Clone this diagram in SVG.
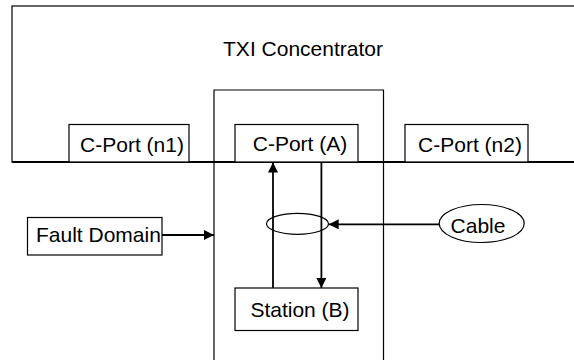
<svg xmlns="http://www.w3.org/2000/svg" width="574" height="360" viewBox="0 0 574 360">
<style>
.box{fill:#fff;stroke:#000;stroke-width:1.2}
.lbl{font-family:"Liberation Sans",Arial,sans-serif;font-size:21px;fill:#000}
.conn{stroke:#000;stroke-width:1.8;fill:none}
</style>
<defs>
<marker id="ah" viewBox="0 0 10 10" refX="10" refY="5" markerWidth="10" markerHeight="10" markerUnits="userSpaceOnUse" orient="auto">
<path d="M0,0 L10,5 L0,10 z" fill="#000"/>
</marker>
</defs>
<rect width="574" height="360" fill="#fff"/>
<g id="concentrator">
<rect class="box" x="12" y="6" width="570" height="156"/>
<line x1="12" y1="162" x2="574" y2="162" stroke="#000" stroke-width="2.2"/>
<text class="lbl" x="303" y="56" text-anchor="middle">TXI Concentrator</text>
</g>
<g id="fault-domain-region">
<path d="M214,360 V90 H383.5 V360" fill="none" stroke="#000" stroke-width="1.2"/>
</g>
<g id="cport-n1">
<rect class="box" x="69" y="124.5" width="120" height="37.5"/>
<text class="lbl" x="132" y="151.5" text-anchor="middle">C-Port (n1)</text>
</g>
<g id="cport-a">
<rect class="box" x="235" y="124.5" width="123" height="37.5"/>
<text class="lbl" x="300" y="150.5" text-anchor="middle">C-Port (A)</text>
</g>
<g id="cport-n2">
<rect class="box" x="405" y="124.5" width="123" height="37.5"/>
<text class="lbl" x="470" y="151.5" text-anchor="middle">C-Port (n2)</text>
</g>
<g id="fault-domain">
<rect class="box" x="27.5" y="217.5" width="134.5" height="37.5"/>
<text class="lbl" x="36" y="242" >Fault Domain</text>
</g>
<g id="station-b">
<rect class="box" x="235" y="288" width="123" height="42.5"/>
<text class="lbl" x="300" y="316.5" text-anchor="middle">Station (B)</text>
</g>
<g id="cable">
<ellipse class="box" cx="481.7" cy="223.5" rx="42.5" ry="19"/>
<text class="lbl" x="478" y="232.5" text-anchor="middle">Cable</text>
</g>
<g id="cable-loop">
<ellipse cx="297.5" cy="223.8" rx="31" ry="10.5" fill="none" stroke="#000" stroke-width="1.2"/>
</g>
<g id="connectors">
<line class="conn" x1="273" y1="288" x2="273" y2="162.5" marker-end="url(#ah)"/>
<line class="conn" x1="321.4" y1="162" x2="321.4" y2="288" marker-end="url(#ah)"/>
<line class="conn" x1="162" y1="235" x2="214" y2="235" marker-end="url(#ah)"/>
<line class="conn" x1="439.2" y1="224.3" x2="328.7" y2="224.3" marker-end="url(#ah)"/>
</g>
</svg>
